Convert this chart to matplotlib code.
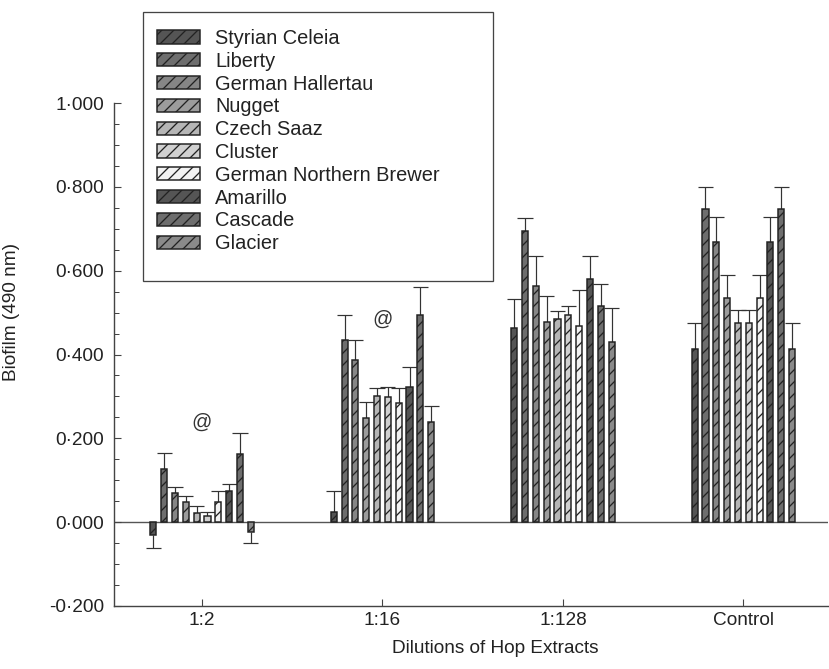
import numpy as np
import matplotlib
matplotlib.use("Agg")
import matplotlib.pyplot as plt
from matplotlib.patches import Rectangle
from matplotlib.ticker import MultipleLocator, FuncFormatter

plt.rcParams['font.family'] = ['Liberation Sans', 'DejaVu Sans']
plt.rcParams['hatch.linewidth'] = 1.3

# Dados
diluicoes = ["1:2", "1:16", "1:128", "Control"]
lupulos = ["Styrian Celeia", "Liberty", "German Hallertau", "Nugget", "Czech Saaz",
           "Cluster", "German Northern Brewer", "Amarillo", "Cascade", "Glacier"]

# uma lista por diluicao (ordem dos lupulos acima)
media_1_2 = [-0.031, 0.127, 0.070, 0.048, 0.022, 0.014, 0.048, 0.074, 0.162, -0.024]
erro_1_2 = [0.030, 0.038, 0.014, 0.014, 0.016, 0.010, 0.026, 0.017, 0.050, 0.026]
media_1_16 = [0.024, 0.434, 0.387, 0.248, 0.301, 0.298, 0.284, 0.323, 0.494, 0.239]
erro_1_16 = [0.050, 0.060, 0.047, 0.038, 0.019, 0.024, 0.036, 0.047, 0.067, 0.038]
media_1_128 = [0.463, 0.694, 0.563, 0.477, 0.484, 0.494, 0.468, 0.580, 0.516, 0.430]
erro_1_128 = [0.069, 0.031, 0.072, 0.062, 0.020, 0.022, 0.086, 0.055, 0.052, 0.080]
media_controle = [0.413, 0.747, 0.668, 0.535, 0.475, 0.475, 0.535, 0.668, 0.747, 0.413]
erro_controle = [0.063, 0.053, 0.060, 0.055, 0.031, 0.031, 0.055, 0.060, 0.053, 0.063]

medias = np.array([media_1_2, media_1_16, media_1_128, media_controle])
erros = np.array([erro_1_2, erro_1_16, erro_1_128, erro_controle])

# posicoes dos "@" (diluicao, altura)
marcas_x = [0, 1]
marcas_y = [0.239, 0.484]

cores = ["#555555", "#6e6e6e", "#868686", "#9c9c9c", "#b6b6b6",
         "#d0d0d0", "#f2f2f2", "#555555", "#6e6e6e", "#8a8a8a"]

fig = plt.figure(figsize=(829 / 72, 669 / 72), dpi=72)
ax = fig.add_axes([0.1375, 0.0942, 0.8615, 0.7518])

x = np.arange(len(diluicoes))
passo = 0.06
largura = 0.034
meia_tampa = 0.042
handles = []
for i, nome in enumerate(lupulos):
    pos = x + (i - 4.5) * passo
    vals = medias[:, i]
    errs = erros[:, i]
    barras = ax.bar(pos, vals, largura, color=cores[i], edgecolor="#222222",
                    linewidth=1.5, hatch="//", label=nome, zorder=3)
    handles.append(barras)
    # barra de erro só para o lado do valor
    sinal = np.where(vals >= 0, 1, -1)
    fim = vals + sinal * errs
    ax.vlines(pos, vals, fim, color="#333333", linewidth=1.2, zorder=2)
    ax.hlines(fim, pos - meia_tampa, pos + meia_tampa, color="#333333", linewidth=1.2, zorder=2)

ax.axhline(0, color="#555555", linewidth=1.4, zorder=1)

for mx, my in zip(marcas_x, marcas_y):
    ax.text(mx, my, "@", ha="center", va="center", fontsize=20, color="#333333")

ax.set_xlim(-0.488, 3.47)
ax.set_ylim(-0.2, 1.0)
ax.set_xticks(x)
ax.set_xticklabels(diluicoes)
ax.yaxis.set_major_locator(MultipleLocator(0.2))
ax.yaxis.set_minor_locator(MultipleLocator(0.05))
ax.yaxis.set_major_formatter(FuncFormatter(lambda v, p: f"{v:.3f}".replace(".", "\u00b7")))

for lado in ["top", "right"]:
    ax.spines[lado].set_visible(False)
for lado in ["left", "bottom"]:
    ax.spines[lado].set_color("#444444")
    ax.spines[lado].set_linewidth(1.4)

ax.tick_params(axis="both", which="major", direction="in", length=7, width=1.1,
               color="#444444", labelsize=19, labelcolor="#222222")
ax.tick_params(axis="y", which="minor", direction="in", length=5, width=1.0, color="#444444")
ax.tick_params(axis="y", which="major", pad=10)
ax.tick_params(axis="x", which="major", pad=6)

ax.set_ylabel("Biofilm (490 nm)", fontsize=19, color="#222222")
ax.set_xlabel("Dilutions of Hop Extracts", fontsize=19, color="#222222")
ax.yaxis.set_label_coords(-0.131, 0.585)
ax.xaxis.set_label_coords(0.534, -0.068)

# moldura da legenda
moldura = Rectangle((143 / 829, 1 - 281 / 669), 350 / 829, 269 / 669,
                    transform=fig.transFigure, facecolor="white",
                    edgecolor="#444444", linewidth=1.3, zorder=5)
fig.patches.append(moldura)

leg = fig.legend(handles=handles, loc="upper left", bbox_to_anchor=(157 / 829, 1 - 29 / 669),
                 bbox_transform=fig.transFigure, borderaxespad=0, borderpad=0, fontsize=20,
                 handlelength=2.15, handleheight=0.65, handletextpad=0.75,
                 labelspacing=0.19, frameon=False)
leg.set_zorder(6)
for t in leg.get_texts():
    t.set_color("#222222")

fig.savefig("out.png", dpi=72)
